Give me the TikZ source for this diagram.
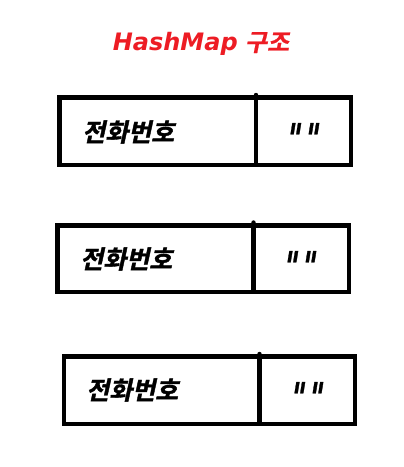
\documentclass[tikz,border=0pt]{standalone}
\usepackage{graphicx}
\usepackage{fontspec}
\newfontfamily\krfont[FakeSlant=0.22,FakeBold=1.5]{Noto Sans CJK KR Bold}
\newfontfamily\krtitle[FakeSlant=0.2,FakeBold=0.8]{Noto Sans CJK KR Bold}
\newfontfamily\enfont{DejaVu Sans Bold Oblique}
\newfontfamily\quotefont[FakeSlant=0.25,FakeBold=1]{DejaVu Sans Bold}
\definecolor{titlered}{RGB}{237,28,36}
\newcommand{\emptyval}{\scalebox{1.1}[1.7]{"\kern4pt"}}
\begin{document}
\begin{tikzpicture}[x=1pt,y=-1pt,
  cell/.style={draw=black,line width=4.5pt,line join=miter},
  keytext/.style={font=\krfont\fontsize{25}{27}\selectfont,anchor=west,inner sep=0pt},
  valtext/.style={font=\quotefont\fontsize{24}{26}\selectfont,inner sep=0pt,anchor=north},
  dot/.style={fill=black}]
\useasboundingbox (0,0) rectangle (404,467);
\node[font=\fontsize{24}{26}\selectfont,text=titlered,inner sep=0pt] (title) at (201,44) {{\enfont HashMap} {\krtitle 구조}};
% box 1
\draw[cell] (59.5,97.5) rectangle (351,165);
\draw[cell] (256,97.5) -- (256,165);
\fill[dot] (256,95) circle (2.2);
\node[keytext] (k1) at (82,132) {전화번호};
\node[valtext] (v1) at (301,123) {\emptyval};
% box 2
\draw[cell] (57.5,225.5) rectangle (349,292);
\draw[cell] (253.5,225.5) -- (253.5,292);
\fill[dot] (253.5,222.5) circle (2.2);
\node[keytext] (k2) at (80,259) {전화번호};
\node[valtext] (v2) at (298,251) {\emptyval};
% box 3
\draw[cell] (64,356.5) rectangle (355,424);
\draw[cell] (259.5,356.5) -- (259.5,424);
\fill[dot] (259.5,354) circle (2.2);
\node[keytext] (k3) at (86,390) {전화번호};
\node[valtext] (v3) at (305,382) {\emptyval};
\end{tikzpicture}
\end{document}
